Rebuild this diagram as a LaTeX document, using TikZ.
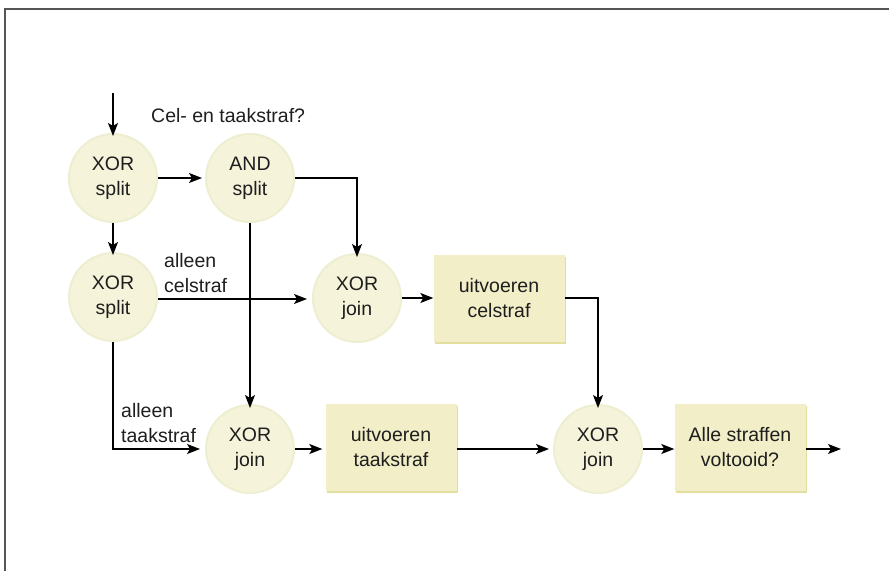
\documentclass[tikz,border=0pt]{standalone}
\usepackage{fontspec}
\setmainfont{Liberation Sans}
\usetikzlibrary{arrows.meta,shadows}

\definecolor{frameline}{HTML}{555555}
\definecolor{inkc}{HTML}{1E1E1E}
\definecolor{ballin}{HTML}{F5F3DA}
\definecolor{ballmid}{HTML}{ECEBC0}
\definecolor{ballrim}{HTML}{D6D68F}
\definecolor{boxfill}{HTML}{F2EEC8}
\definecolor{boxshade}{HTML}{E1DE9E}
\definecolor{halo}{HTML}{EEEED2}

% soft pale ball used for the split/join gateways
\pgfdeclareradialshading{gateball}{\pgfpointorigin}{%
  color(0bp)=(ballin); color(26bp)=(ballin); color(40bp)=(ballmid);
  color(48bp)=(ballrim); color(50bp)=(ballrim)}

\tikzset{
  x=1pt, y=-1pt,
  every node/.style={font=\fontsize{19.5}{25}\selectfont, text=inkc},
  gate/.style={circle, minimum size=88pt, inner sep=0pt, align=center,
    shading=gateball, draw=halo, line width=2pt},
  task/.style={rectangle, minimum width=131pt, minimum height=87pt, align=center,
    fill=boxfill, draw=none,
    drop shadow={shadow xshift=1.5pt, shadow yshift=-2.5pt, fill=boxshade, opacity=1}},
  lbl/.style={align=left, anchor=west, inner sep=0pt},
  flow/.style={line width=1.3pt, draw=black,
    -{Stealth[length=13pt,width=10pt,inset=3pt]}},
}

\begin{document}
\begin{tikzpicture}
\useasboundingbox (0,0) rectangle (889,571);

% page frame (top and left edges)
\draw[frameline, line width=1.4pt] (889,9) -- (5,9) -- (5,571);

% gateways
\node[gate] (xs1) at (113,178) {XOR\\split};
\node[gate] (as)  at (250,178) {AND\\split};
\node[gate] (xs2) at (113,297) {XOR\\split};
\node[gate] (xj1) at (357,298) {XOR\\join};
\node[gate] (xj2) at (250,449) {XOR\\join};
\node[gate] (xj3) at (598,449) {XOR\\join};

% tasks
\node[task] (tc) at (499,298) {uitvoeren\\celstraf};
\node[task] (tt) at (391,447) {uitvoeren\\taakstraf};
\node[task] (ta) at (740,447) {Alle straffen\\voltooid?};

% labels
\node[lbl] (q)  at (151,116) {Cel- en taakstraf?};
\node[lbl] (lc) at (164,273) {alleen\\celstraf};
\node[lbl] (lt) at (121,423) {alleen\\taakstraf};

% free ends
\coordinate (in)  at (113,93);
\coordinate (out) at (841,449);
\coordinate (c1) at (357,178);
\coordinate (c2) at (598,298);
\coordinate (c3) at (113,449);

% connectors
\draw[flow] (in) -- ([yshift=-3pt]xs1.north);
\draw[flow] (xs1.east) -- ([xshift=-3pt]as.west);
\draw[flow] (xs1.south) -- ([yshift=-3pt]xs2.north);
\draw[flow] (as.east) -- (c1) -- ([yshift=-4pt]xj1.north);
\draw[flow] (as.south) -- ([yshift=-4pt]xj2.north);
\draw[flow] (xs2.east |- 0,299) -- ([xshift=-5pt]xj1.west |- 0,299);
\draw[flow] (xs2.south) -- (c3) -- ([xshift=-5pt]xj2.west);
\draw[flow] (xj1.east) -- (tc.west);
\draw[flow] (tc.east) -- (c2) -- ([yshift=-4pt]xj3.north);
\draw[flow] (xj2.east) -- ([xshift=-3pt]tt.west |- xj2.east);
\draw[flow] (tt.east |- xj3.west) -- ([xshift=-4pt]xj3.west);
\draw[flow] (xj3.east) -- (ta.west |- xj3.east);
\draw[flow] (ta.east |- out) -- (out);
\end{tikzpicture}
\end{document}
